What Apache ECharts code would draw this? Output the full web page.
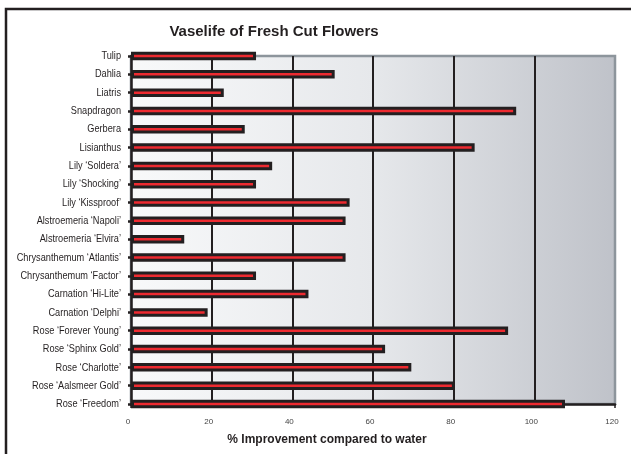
<!DOCTYPE html>
<html>
<head>
<meta charset="utf-8">
<script src="https://cdn.jsdelivr.net/npm/echarts@6/dist/echarts.min.js"></script>
<style>html,body{margin:0;padding:0;background:#fff}#c{width:631px;height:454px}</style>
</head>
<body>
<div id="c"></div>
<script>
const categories = ["Tulip","Dahlia","Liatris","Snapdragon","Gerbera","Lisianthus","Lily \u2018Soldera\u2019","Lily \u2018Shocking\u2019","Lily \u2018Kissproof\u2019","Alstroemeria \u2018Napoli\u2019","Alstroemeria \u2018Elvira\u2019","Chrysanthemum \u2018Atlantis\u2019","Chrysanthemum \u2018Factor\u2019","Carnation \u2018Hi-Lite\u2019","Carnation \u2018Delphi\u2019","Rose \u2018Forever Young\u2019","Rose \u2018Sphinx Gold\u2019","Rose \u2018Charlotte\u2019","Rose \u2018Aalsmeer Gold\u2019","Rose \u2018Freedom\u2019"];
const improvement = [31, 50.5, 23, 95.5, 28.2, 85.2, 35, 31, 54.2, 53.2, 13.2, 53.2, 31, 44, 19, 93.5, 63, 69.5, 80.3, 107.6];
const xTicks = [0, 20, 40, 60, 80, 100, 120];

const chart = echarts.init(document.getElementById('c'), null, {renderer: 'canvas'});
const baseGraphics = [
  {type: 'rect', shape: {x: 6, y: 9, width: 700, height: 500}, style: {fill: 'none', stroke: '#231f20', lineWidth: 2.5}, silent: true},
  {type: 'text', x: 274, y: 32, style: {text: 'Vaselife of Fresh Cut Flowers', fill: '#231f20', font: 'bold 15px "Liberation Sans", Arial, sans-serif', align: 'center', verticalAlign: 'middle'}},
  {type: 'text', x: 327, y: 440, style: {text: '% Improvement compared to water', fill: '#231f20', font: 'bold 12px "Liberation Sans", Arial, sans-serif', align: 'center', verticalAlign: 'middle'}}
];
chart.setOption({
  animation: false,
  backgroundColor: '#fff',
  grid: {
    left: 131, right: 16, top: 56, bottom: 50,
    outerBoundsMode: 'none',
    containLabel: false,
    show: true,
    backgroundColor: new echarts.graphic.LinearGradient(0, 0, 1, 0, [
      {offset: 0, color: '#f8f9fa'},
      {offset: 0.5, color: '#e6e8eb'},
      {offset: 1, color: '#bfc2c9'}
    ]),
    borderColor: '#8d959c',
    borderWidth: 2.5
  },
  xAxis: {
    type: 'value',
    min: xTicks[0], max: xTicks[xTicks.length - 1], interval: 20,
    axisLine: {show: true, onZero: false, lineStyle: {color: '#231f20', width: 2.5}},
    axisTick: {show: true, length: 4, inside: false, lineStyle: {color: '#231f20', width: 1.5}},
    axisLabel: {color: '#444', fontSize: 8, fontFamily: 'Liberation Sans, Arial, sans-serif', margin: 14, padding: [0, 6, 0, 0]},
    splitLine: {show: true, lineStyle: {color: ['rgba(0,0,0,0)', '#231f20', '#231f20', '#231f20', '#231f20', '#231f20', 'rgba(0,0,0,0)'], width: 2}}
  },
  yAxis: {
    type: 'category',
    data: categories,
    inverse: true,
    boundaryGap: false,
    axisLine: {show: true, lineStyle: {color: '#231f20', width: 2.5}},
    axisTick: {show: true, length: 3, alignWithLabel: true, lineStyle: {color: '#231f20', width: 2.5}},
    axisLabel: {show: false},
    splitLine: {show: false}
  },
  series: [{
    type: 'bar',
    data: improvement,
    barWidth: 8.5,
    clip: false,
    itemStyle: {color: '#ee2a30', borderColor: '#231f20', borderWidth: 3},
    emphasis: {disabled: true}
  }],
  graphic: baseGraphics
});

// Condensed category labels, positioned through the category axis scale
const labelGraphics = categories.map(function (c) {
  const p = chart.convertToPixel({gridIndex: 0}, [0, c]);
  return {
    type: 'text', x: p[0] - 10, y: p[1], scaleX: 0.8, silent: true,
    style: {text: c, fill: '#231f20', font: '11.5px "Liberation Sans", Arial, sans-serif', align: 'right', verticalAlign: 'middle'}
  };
});
chart.setOption({graphic: baseGraphics.concat(labelGraphics)});
</script>
</body>
</html>
